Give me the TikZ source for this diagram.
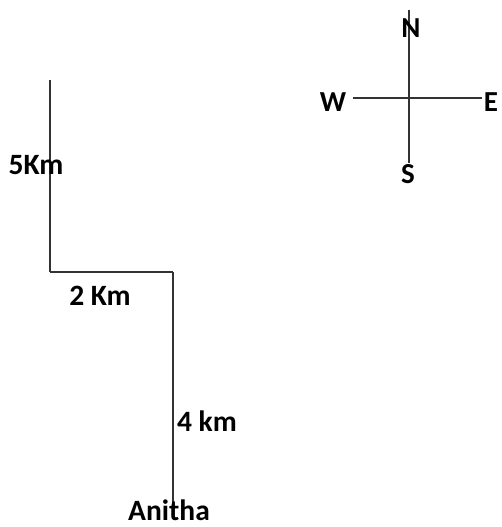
\documentclass[tikz,border=0pt]{standalone}
\usepackage{fontspec}
\setmainfont{Carlito}
\usetikzlibrary{arrows,shapes}
\tikzstyle{corner}=[coordinate]
\tikzstyle{dirtext}=[inner sep=0pt,font=\fontsize{29}{31}\selectfont\bfseries]
\tikzstyle{disttext}=[inner sep=0pt,font=\fontsize{29.5}{31}\selectfont\bfseries]
\tikzstyle{edge}=[draw,line width=1.6pt,black!80,-]

\begin{document}
\begin{tikzpicture}[x=1pt,y=-1pt]
    \useasboundingbox (0,0) rectangle (501,527);
    % Path walked by Anitha
    % First we place the turning points
    \foreach \pos/\name in {{(50,80)/pa}, {(50,272)/pb}, {(173,272)/pc}, {(173,503)/pd}}
        \node[corner] (\name) at \pos {};
    % Then the compass ends
    \foreach \pos/\name in {{(409,10)/cn}, {(409,163)/cs}, {(353,98)/cw}, {(482,98)/ce}}
        \node[corner] (\name) at \pos {};
    % Connect the points with edges
    \foreach \source/ \dest in {pa/pb, pb/pc, pc/pd, cn/cs, cw/ce}
        \path[edge] (\source) -- (\dest) ;
    % Directions
    \foreach \pos/\name in {{(411,28)/N}, {(333,102)/W}, {(491,102)/E}, {(408,174)/S}}
        \node[dirtext] (dir\name) at \pos {\name};
    % Distances
    \node[disttext] (dist5) at (36,165) {5Km};
    \node[disttext] (dist2) at (100,296) {2 Km};
    \node[disttext] (dist4) at (207,421) {4 km};
    \node[disttext] (anitha) at (169,510) {Anitha};
\end{tikzpicture}
\end{document}
